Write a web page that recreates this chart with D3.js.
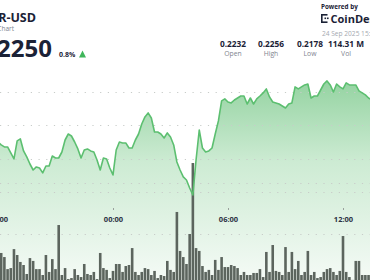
<!DOCTYPE html>
<html><head><meta charset="utf-8">
<script src="https://cdn.jsdelivr.net/npm/d3@7"></script>
<style>
html,body{margin:0;padding:0;background:#fff;overflow:hidden}
svg{display:block;font-family:"Open Sans","Noto Sans",sans-serif}
</style></head><body>
<svg id="c" width="370" height="280"></svg>
<script>
// ---- data ----
const stepMinutes = 10;               // samples every 10 minutes from 18:00
const prices = [
0.22125,0.22103,0.22088,0.22088,0.22043,0.21998,0.22133,0.22148,0.22058,0.22013,
0.21960,0.21915,0.21938,0.21930,0.21893,0.21945,0.21945,0.22020,0.22005,0.22005,
0.22050,0.22140,0.22185,0.22170,0.22125,0.22073,0.22005,0.22065,0.22073,0.22058,
0.22050,0.21990,0.21915,0.22005,0.21998,0.21930,0.21878,0.22065,0.22125,0.22118,
0.22118,0.22080,0.22080,0.22140,0.22185,0.22260,0.22313,0.22343,0.22305,0.22200,
0.22200,0.22185,0.22155,0.22193,0.22163,0.22103,0.21975,0.21915,0.21863,0.21840,
0.21780,0.21728,0.21990,0.22215,0.22080,0.22050,0.22058,0.22080,0.22185,0.22283,
0.22433,0.22448,0.22425,0.22418,0.22440,0.22455,0.22470,0.22470,0.22410,0.22455,
0.22410,0.22448,0.22470,0.22493,0.22523,0.22463,0.22425,0.22418,0.22410,0.22395,
0.22380,0.22410,0.22418,0.22538,0.22523,0.22538,0.22553,0.22560,0.22455,0.22470,
0.22470,0.22515,0.22560,0.22583,0.22553,0.22500,0.22560,0.22538,0.22523,0.22568,
0.22553,0.22553,0.22553,0.22508,0.22493,0.22478,0.22455,0.22440
];
const volumes = [ // millions
1.37,1.57,1.37,0.78,0.83,1.76,1.47,1.13,0.98,0.54,
1.32,1.18,0.78,0.78,0.49,1.47,0.64,1.27,0.78,2.94,
0.49,0.83,0.29,0.34,0.78,0.49,0.39,1.03,0.54,0.49,
0.64,0.29,1.57,0.83,0.74,0.34,0.69,1.03,1.03,0.64,
0.93,0.98,1.81,0.64,0.49,0.64,0.83,0.78,0.49,0.69,
0.34,0.49,0.44,1.18,0.74,0.64,3.58,1.67,1.37,1.03,
2.50,5.98,1.81,1.67,0.93,0.64,0.74,0.49,1.23,0.74,
1.37,0.88,0.88,0.98,0.93,0.83,0.49,0.64,0.49,0.49,
0.59,0.59,0.78,0.39,1.62,0.64,1.96,0.69,0.64,0.49,
1.86,0.64,1.62,0.78,1.18,0.49,0.64,1.67,0.49,0.64,
0.34,0.39,0.64,0.78,0.83,0.64,0.49,0.69,2.40,0.64,
0.39,0.25,1.18,1.18,0.49,0.49,0.49,0.44
];
const xTickMinutes = [-360, 0, 360, 720];
const xTickLabels = ["18:00", "00:00", "06:00", "12:00"];
const priceTicks = [0.2175, 0.2200, 0.2225, 0.2250];
const volumeTicks = [2.5, 5.0];
const stats = [
  {label: "Open", value: "0.2232"},
  {label: "High", value: "0.2256"},
  {label: "Low",  value: "0.2178"},
  {label: "Vol",  value: "114.31 M"}
];
const symbol = "HBAR-USD";
const subtitle = "Price Chart";
const lastPrice = "0.2250";
const change = "0.8%";
const dateText = "24 Sep 2025 15:00";

// ---- build ----
const svg = d3.select("#c");
const ink = "#1b2236";
const green = "#5cbf70";
const t0 = -360; // minutes from 00:00 of first sample (18:00)
const rows = prices.map((p, i) => ({t: t0 + i * stepMinutes, p, v: volumes[i]}));

const x = d3.scaleLinear().domain([-360, 720]).range([-2, 343]);
const y = d3.scaleLinear().domain([0.2175, 0.2250]).range([192, 92]);
const yv = d3.scaleLinear().domain([0, 2.5]).range([285, 234]);

const defs = svg.append("defs");
const grad = defs.append("linearGradient").attr("id", "g")
  .attr("gradientUnits", "userSpaceOnUse").attr("x1", 0).attr("x2", 0).attr("y1", 80).attr("y2", 285);
grad.append("stop").attr("offset", "0").attr("stop-color", "#94d3a1");
grad.append("stop").attr("offset", "0.4").attr("stop-color", "#cdebd3");
grad.append("stop").attr("offset", "1").attr("stop-color", "#f6fbf7");

// area
svg.append("path").datum(rows)
  .attr("fill", "url(#g)")
  .attr("d", d3.area().x(d => x(d.t)).y0(285).y1(d => y(d.p)));

// gridlines
const grid = svg.append("g").attr("stroke", "#c8ccc9").attr("stroke-width", 1)
  .attr("stroke-dasharray", "1.2,6.5");
grid.selectAll("line.p").data(priceTicks).join("line")
  .attr("x1", 0).attr("x2", 370).attr("y1", d => Math.round(y(d)) + 0.5).attr("y2", d => Math.round(y(d)) + 0.5);
grid.selectAll("line.v").data(volumeTicks).join("line")
  .attr("x1", 0).attr("x2", 370).attr("y1", d => Math.round(yv(d)) + 0.5).attr("y2", d => Math.round(yv(d)) + 0.5);

// volume bars
const bw = x(stepMinutes) - x(0);
svg.append("g").selectAll("rect").data(rows).join("rect")
  .attr("x", d => x(d.t) - bw / 2 + 0.3)
  .attr("width", bw - 0.6)
  .attr("y", d => yv(d.v))
  .attr("height", d => 285 - yv(d.v))
  .attr("fill", "#5c655e");

// price line
svg.append("path").datum(rows)
  .attr("fill", "none").attr("stroke", green).attr("stroke-width", 1.6)
  .attr("stroke-linejoin", "round")
  .attr("d", d3.line().x(d => x(d.t)).y(d => y(d.p)));

// x axis
const xa = svg.append("g").attr("transform", "translate(0,208)")
  .call(d3.axisTop(x).tickValues(xTickMinutes).tickFormat((d, i) => xTickLabels[i]).tickSize(2).tickSizeOuter(0));
xa.select(".domain").remove();
xa.selectAll(".tick line").attr("stroke", "#9aa09c").attr("transform", "translate(0,2)");
xa.selectAll(".tick text").attr("y", 14).attr("dy", 0).attr("fill", "#2b3142")
  .attr("font-size", 7.5).attr("font-weight", 700).attr("font-family", "'Open Sans',sans-serif");

// header left
svg.append("text").attr("x", 36).attr("y", 22).attr("text-anchor", "end")
  .attr("font-size", 12.5).attr("font-weight", 700).attr("fill", ink).text(symbol);
svg.append("text").attr("x", 14).attr("y", 31).attr("text-anchor", "end")
  .attr("font-size", 6.5).attr("fill", "#7d8290").text(subtitle);
svg.append("text").attr("x", 52).attr("y", 57).attr("text-anchor", "end")
  .attr("font-size", 24).attr("font-weight", 700).attr("fill", ink).text(lastPrice);
svg.append("text").attr("x", 59).attr("y", 57)
  .attr("font-size", 7).attr("font-weight", 700).attr("fill", ink).text(change);
svg.append("path").attr("d", "M79,57.5L82.5,50.5L86,57.5Z").attr("fill", "#3fb65b");

// stats
const sx = [233, 271, 310, 346];
const sg = svg.append("g").selectAll("g").data(stats).join("g")
  .attr("transform", (d, i) => `translate(${sx[i]},0)`);
sg.append("text").attr("y", 47).attr("text-anchor", "middle").attr("font-size", 8.3)
  .attr("font-weight", 700).attr("fill", ink).text(d => d.value);
sg.append("text").attr("y", 56).attr("text-anchor", "middle").attr("font-size", 6.8)
  .attr("fill", "#80858f").text(d => d.label);

// header right
svg.append("text").attr("x", 321).attr("y", 9).attr("font-size", 6.3)
  .attr("font-weight", 700).attr("fill", ink).text("Powered by");
const logo = svg.append("g").attr("fill", ink);
logo.append("rect").attr("x", 321).attr("y", 14).attr("width", 6.5).attr("height", 1.6);
logo.append("rect").attr("x", 321).attr("y", 14).attr("width", 1.6).attr("height", 9);
logo.append("rect").attr("x", 321).attr("y", 21.4).attr("width", 6.5).attr("height", 1.6);
logo.append("rect").attr("x", 324.5).attr("y", 17.5).attr("width", 1.6).attr("height", 1.6);
logo.append("rect").attr("x", 327).attr("y", 17.5).attr("width", 1.6).attr("height", 1.6);
svg.append("text").attr("x", 330.5).attr("y", 23).attr("font-size", 11)
  .attr("font-weight", 700).attr("fill", ink).text("CoinDesk");
svg.append("text").attr("x", 322).attr("y", 36).attr("font-size", 6.6)
  .attr("fill", "#a5a9b0").text(dateText);
</script>
</body></html>
